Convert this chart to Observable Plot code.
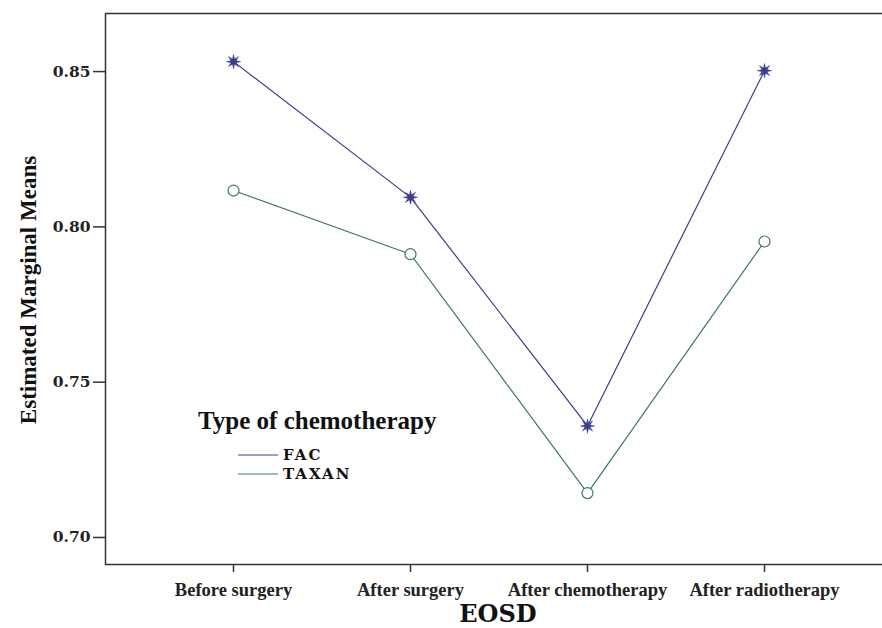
<!DOCTYPE html>
<html>
<head>
<meta charset="utf-8">
<script src="https://cdn.jsdelivr.net/npm/d3@7"></script>
<script src="https://cdn.jsdelivr.net/npm/@observablehq/plot@0.6"></script>
<style>
  html, body { margin: 0; padding: 0; background: #fff; overflow: hidden; }
  #chart { position: relative; width: 882px; height: 628px; }
</style>
</head>
<body>
<div id="chart"></div>
<script>
const stages = ["Before surgery", "After surgery", "After chemotherapy", "After radiotherapy"];
const facValues = [0.8532, 0.8095, 0.7359, 0.8503];
const taxanValues = [0.8117, 0.7912, 0.7143, 0.7953];
const groups = ["FAC", "TAXAN"];
const groupColors = ["#3c3c8c", "#3d7a55"];
const yTicks = [0.70, 0.75, 0.80, 0.85];

const rows = [];
stages.forEach((s, i) => {
  rows.push({stage: s, group: "FAC", value: facValues[i]});
  rows.push({stage: s, group: "TAXAN", value: taxanValues[i]});
});
const fac = rows.filter(d => d.group === "FAC");
const taxan = rows.filter(d => d.group === "TAXAN");

// 8-pointed star symbol
const star8 = {
  draw(context, size) {
    const r = Math.sqrt(size) * 0.75;
    const ri = r * 0.38;
    for (let k = 0; k < 16; k++) {
      const a = k * Math.PI / 8 - Math.PI / 2;
      const rr = k % 2 === 0 ? r : ri;
      const x = rr * Math.cos(a), y = rr * Math.sin(a);
      if (k === 0) context.moveTo(x, y); else context.lineTo(x, y);
    }
    context.closePath();
  }
};

const serif = "'Liberation Serif', 'Times New Roman', serif";
const wideSerif = "'DejaVu Serif', serif";

const plot = Plot.plot({
  width: 882,
  height: 628,
  marginLeft: 105,
  marginTop: 13,
  marginBottom: 64,
  marginRight: -10,
  style: {background: "#fff", overflow: "hidden"},
  x: {domain: stages, padding: 0.723, label: null},
  y: {domain: [0.6913, 0.8687], label: null},
  color: {domain: groups, range: groupColors},
  marks: [
    Plot.frame({stroke: "#333", strokeWidth: 1.5}),
    Plot.axisY({ticks: yTicks, tickFormat: d3.format(".2f"), tickSize: 12, tickPadding: 3,
      fontSize: 15.5, fontWeight: "bold", fontFamily: wideSerif, stroke: null, fill: "#222", label: null}),
    Plot.axisY({ticks: yTicks, tickSize: 12, text: null, stroke: "#333", strokeWidth: 1.5, label: null}),
    Plot.axisX({tickSize: 8, tickPadding: 10, fontSize: 18.5, fontWeight: "bold", fontFamily: serif,
      fill: "#222", stroke: "#333", strokeWidth: 1.5, label: null}),
    Plot.line(fac, {x: "stage", y: "value", stroke: groupColors[0], strokeWidth: 1.2}),
    Plot.line(taxan, {x: "stage", y: "value", stroke: groupColors[1], strokeWidth: 1.2}),
    Plot.dot(fac, {x: "stage", y: "value", symbol: star8, r: 5.5, fill: groupColors[0], stroke: groupColors[0], strokeWidth: 0.4}),
    Plot.dot(taxan, {x: "stage", y: "value", symbol: "circle", r: 5.5, fill: "white", stroke: groupColors[1], strokeWidth: 1.2})
  ]
});

document.getElementById("chart").appendChild(plot);

const svg = d3.select(plot);
// Y axis label
svg.append("text")
  .attr("transform", "translate(36,290) rotate(-90)")
  .attr("text-anchor", "middle")
  .attr("font-family", serif)
  .attr("font-weight", "bold")
  .attr("font-size", 23)
  .attr("fill", "#111")
  .text("Estimated Marginal Means");
// X axis label
svg.append("text")
  .attr("x", 498)
  .attr("y", 622)
  .attr("text-anchor", "middle")
  .attr("font-family", wideSerif)
  .attr("font-weight", "bold")
  .attr("font-size", 24)
  .attr("fill", "#111")
  .text("EOSD");
// Legend
const lg = svg.append("g");
lg.append("text")
  .attr("x", 198).attr("y", 429)
  .attr("text-anchor", "start")
  .attr("font-family", serif).attr("font-weight", "bold").attr("font-size", 25).attr("fill", "#111")
  .text("Type of chemotherapy");
groups.forEach((g, i) => {
  const y = 455 + i * 19;
  lg.append("line").attr("x1", 238).attr("x2", 278).attr("y1", y).attr("y2", y)
    .attr("stroke", groupColors[i]).attr("stroke-width", 1.2);
  lg.append("text").attr("x", 283).attr("y", y + 5)
    .attr("text-anchor", "start")
    .attr("font-family", wideSerif).attr("font-weight", "bold").attr("font-size", 15)
    .attr("letter-spacing", 2).attr("fill", "#111")
    .text(g);
});
</script>
</body>
</html>
